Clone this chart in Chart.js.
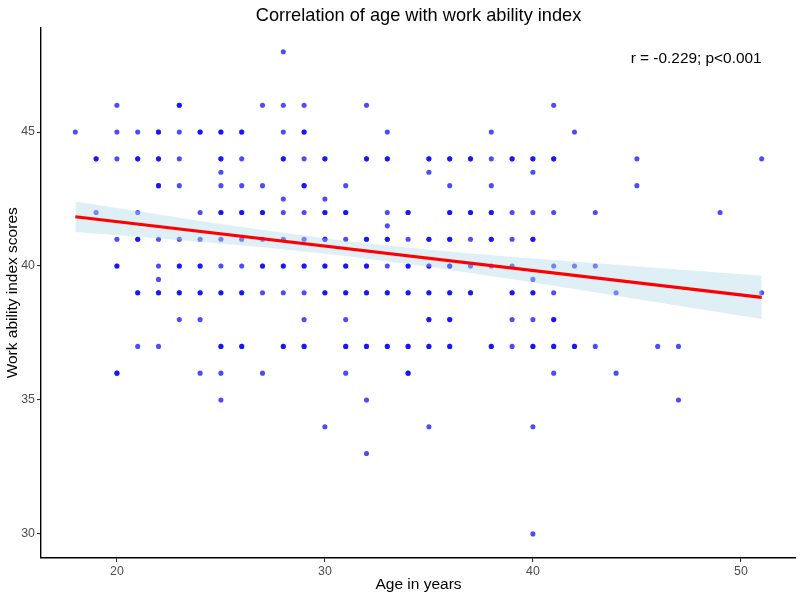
<!DOCTYPE html>
<html>
<head>
<meta charset="utf-8">
<title>Correlation of age with work ability index</title>
<script src="https://cdn.jsdelivr.net/npm/chart.js@4.4.1/dist/chart.umd.min.js"></script>
<style>
  html, body { margin: 0; padding: 0; background: #ffffff; }
  #wrap { width: 800px; height: 597px; }
</style>
</head>
<body>
<div id="wrap"><canvas id="waiChart" width="800" height="597"></canvas></div>
<script>
/* ================= DATA ================= */
// work ability index levels, and the ages of the respondents at each level
// (an age listed twice = two respondents on the same spot)
const scoreLevels = [48, 46, 45, 44, 43.5, 43, 42.5, 42, 41.5, 41, 40, 39.5, 39, 38, 37, 36, 35, 34, 33, 30];
const agesAtLevel = [
  [28],
  [20, 23, 23, 27, 28, 29, 32, 41],
  [18, 20, 21, 22, 22, 23, 24, 24, 25, 25, 26, 26, 28, 29, 29, 33, 38, 42],
  [19, 19, 20, 21, 21, 22, 22, 23, 25, 25, 26, 28, 28, 29, 30, 30, 32, 32, 33, 33, 35, 35, 36, 36, 37, 37, 38, 39, 39, 40, 40, 41, 41, 45, 51],
  [25, 35, 40],
  [22, 22, 23, 25, 26, 27, 29, 29, 31, 36, 38, 45],
  [28, 30],
  [19, 21, 24, 25, 25, 26, 26, 27, 27, 28, 29, 30, 30, 31, 31, 33, 34, 34, 36, 36, 37, 37, 38, 38, 39, 40, 41, 43, 49],
  [33],
  [20, 21, 21, 22, 23, 24, 25, 26, 27, 28, 29, 30, 30, 31, 32, 32, 33, 33, 34, 35, 35, 36, 36, 37, 38, 38, 39, 40, 40],
  [20, 20, 22, 23, 23, 24, 24, 25, 26, 27, 27, 28, 28, 29, 29, 30, 30, 31, 31, 32, 32, 33, 34, 34, 35, 35, 36, 36, 37, 38, 39, 41, 42, 43],
  [22, 40],
  [21, 21, 22, 22, 23, 23, 24, 24, 25, 25, 26, 26, 27, 28, 29, 30, 30, 31, 31, 32, 32, 33, 33, 34, 34, 35, 35, 36, 36, 37, 37, 39, 39, 40, 40, 41, 44, 51],
  [23, 24, 29, 31, 35, 35, 36, 36, 39, 40, 41, 41],
  [21, 22, 25, 25, 26, 26, 28, 28, 29, 29, 31, 31, 32, 32, 33, 33, 34, 34, 35, 35, 36, 36, 38, 38, 39, 40, 40, 41, 41, 42, 42, 43, 46, 47],
  [20, 20, 24, 25, 27, 31, 34, 34, 41, 44],
  [25, 32, 47],
  [30, 35, 40],
  [32],
  [40]
];

// linear fit and its 95% band
const fitAges = [18, 51];
const fitValues = [41.84, 38.83];
const bandAges = [18, 21, 24, 27, 31, 35, 39, 43, 47, 51];
const bandLower = [41.27, 41.09, 40.91, 40.70, 40.37, 39.97, 39.51, 39.02, 38.52, 38.02];
const bandUpper = [42.41, 42.04, 41.68, 41.34, 40.93, 40.61, 40.34, 40.10, 39.87, 39.64];

const xTicks = [20, 30, 40, 50];
const yTicks = [30, 35, 40, 45];

const TITLE = "Correlation of age with work ability index";
const STAT_LABEL = "r = -0.229; p<0.001";
const X_TITLE = "Age in years";
const Y_TITLE = "Work ability index scores";

/* ================= STYLE ================= */
const FONT = '"Liberation Sans", Arial, Helvetica, sans-serif';

/* ================= BUILD POINTS ================= */
const respondents = [];
scoreLevels.forEach((score, i) => {
  agesAtLevel[i].forEach(age => respondents.push({ x: age, y: score }));
});

const fitLine = fitAges.map((a, i) => ({ x: a, y: fitValues[i] }));
const lowerEdge = bandAges.map((a, i) => ({ x: a, y: bandLower[i] }));
const upperEdge = bandAges.map((a, i) => ({ x: a, y: bandUpper[i] }));

/* ================= TEXT LAYER ================= */
const textLayer = {
  id: "textLayer",
  afterDraw(chart) {
    const { ctx, chartArea, scales } = chart;
    ctx.save();
    ctx.fillStyle = "#000000";
    ctx.textAlign = "center";

    ctx.textBaseline = "alphabetic";
    ctx.font = `18.2px ${FONT}`;
    ctx.fillText(TITLE, (chartArea.left + chartArea.right) / 2, 21);

    ctx.textBaseline = "middle";
    ctx.font = `15.4px ${FONT}`;
    ctx.fillText(STAT_LABEL, scales.x.getPixelForValue(47.85), scales.y.getPixelForValue(47.75));
    ctx.restore();
  }
};

/* ================= CHART ================= */
new Chart(document.getElementById("waiChart"), {
  type: "scatter",
  data: {
    datasets: [
      {
        label: "band lower",
        data: lowerEdge,
        showLine: true,
        borderWidth: 0,
        borderColor: "rgba(0,0,0,0)",
        pointRadius: 0,
        fill: false,
        order: 2
      },
      {
        label: "band upper",
        data: upperEdge,
        showLine: true,
        borderWidth: 0,
        borderColor: "rgba(0,0,0,0)",
        backgroundColor: "rgba(173,216,230,0.4)",
        pointRadius: 0,
        fill: "-1",
        order: 2
      },
      {
        label: "fit",
        data: fitLine,
        showLine: true,
        borderColor: "#ff0000",
        borderWidth: 3.2,
        borderCapStyle: "butt",
        pointRadius: 0,
        fill: false,
        order: 1
      },
      {
        label: "respondents",
        data: respondents,
        backgroundColor: "rgba(0,0,255,0.7)",
        borderWidth: 0,
        pointRadius: 2.55,
        order: 3
      }
    ]
  },
  options: {
    responsive: false,
    animation: false,
    devicePixelRatio: 1,
    layout: { padding: { left: 0, right: 3.3, top: 27.6, bottom: 0 } },
    plugins: {
      legend: { display: false },
      tooltip: { enabled: false },
      title: { display: false }
    },
    scales: {
      x: {
        type: "linear",
        position: "bottom",
        min: 16.35,
        max: 52.65,
        afterBuildTicks: s => { s.ticks = xTicks.map(v => ({ value: v })); },
        afterFit: s => { s.height = 39; },
        grid: { display: true, drawOnChartArea: false, drawTicks: true, tickLength: 4, color: "#333333", lineWidth: 1.1 },
        border: { display: true, color: "#000000", width: 1.4 },
        ticks: { color: "#4d4d4d", font: { family: FONT, size: 12.4 }, padding: 2, maxRotation: 0 },
        title: { display: true, text: X_TITLE, color: "#000000", font: { family: FONT, size: 15.5 }, padding: { top: 0, bottom: 3 } }
      },
      y: {
        type: "linear",
        position: "left",
        min: 29.1,
        max: 48.9,
        afterBuildTicks: s => { s.ticks = yTicks.map(v => ({ value: v })); },
        afterFit: s => { s.width = 41; },
        grid: { display: true, drawOnChartArea: false, drawTicks: true, tickLength: 4, color: "#333333", lineWidth: 1.1 },
        border: { display: true, color: "#000000", width: 1.4 },
        ticks: { color: "#4d4d4d", font: { family: FONT, size: 12.4 }, padding: 2 },
        title: { display: true, text: Y_TITLE, color: "#000000", font: { family: FONT, size: 15.5 }, padding: { top: 3, bottom: 0 } }
      }
    }
  },
  plugins: [textLayer]
});
</script>
</body>
</html>
